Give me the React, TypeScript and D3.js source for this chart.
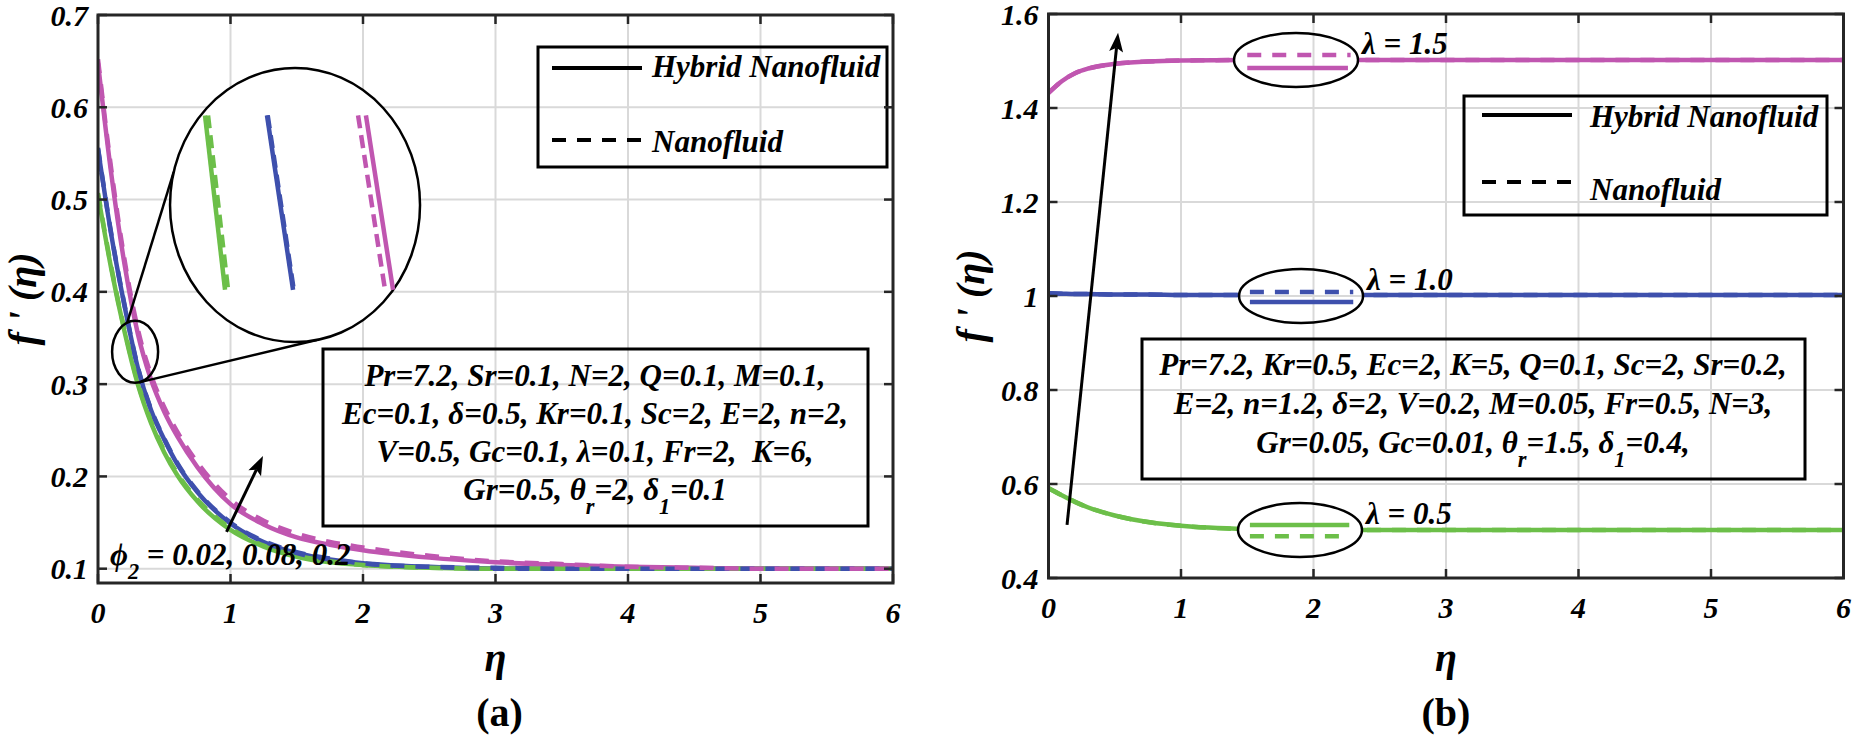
import React from 'react';
import * as d3 from 'd3';

// ---------------- common ----------------
const W = 1863;
const H = 745;
const FONT = "'Liberation Serif', 'Times New Roman', Times, serif";
const GREEN = '#6cbf49';
const BLUE = '#3e50ad';
const MAG = '#c056b0';
const GRID = '#d9d9d9';
const AXIS = '#262626';

const xTicks = [0, 1, 2, 3, 4, 5, 6];

// ---------------- panel (a) data ----------------
const etaA = [0, 0.1, 0.2, 0.3, 0.4, 0.5, 0.6, 0.75, 1, 1.25, 1.5, 1.75, 2, 2.5, 3, 3.5, 4, 4.5, 5, 6];
const phi002Hybrid = [0.505, 0.425, 0.357, 0.300, 0.258, 0.226, 0.201, 0.173, 0.142, 0.124, 0.113, 0.107, 0.104, 0.101, 0.100, 0.100, 0.100, 0.100, 0.100, 0.100];
const phi002Nano = [0.507, 0.427, 0.359, 0.302, 0.260, 0.228, 0.203, 0.175, 0.144, 0.125, 0.114, 0.108, 0.104, 0.101, 0.100, 0.100, 0.100, 0.100, 0.100, 0.100];
const phi008Hybrid = [0.555, 0.462, 0.385, 0.318, 0.272, 0.240, 0.213, 0.183, 0.149, 0.129, 0.117, 0.110, 0.106, 0.102, 0.100, 0.100, 0.100, 0.100, 0.100, 0.100];
const phi008Nano = [0.556, 0.463, 0.386, 0.319, 0.273, 0.241, 0.214, 0.184, 0.150, 0.130, 0.118, 0.111, 0.106, 0.102, 0.101, 0.100, 0.100, 0.100, 0.100, 0.100];
const phi02Hybrid = [0.648, 0.528, 0.430, 0.355, 0.305, 0.270, 0.243, 0.210, 0.170, 0.148, 0.134, 0.126, 0.120, 0.112, 0.107, 0.104, 0.102, 0.101, 0.100, 0.100];
const phi02Nano = [0.652, 0.533, 0.435, 0.360, 0.310, 0.275, 0.248, 0.215, 0.175, 0.152, 0.138, 0.129, 0.123, 0.114, 0.108, 0.105, 0.102, 0.101, 0.100, 0.100];
const yTicksA = [0.1, 0.2, 0.3, 0.4, 0.5, 0.6, 0.7];

const seriesA = [
  { color: GREEN, hybrid: phi002Hybrid, nano: phi002Nano },
  { color: BLUE, hybrid: phi008Hybrid, nano: phi008Nano },
  { color: MAG, hybrid: phi02Hybrid, nano: phi02Nano },
];

// magnified window shown in the big circle of panel (a)
const insetEtaDomain = [0.18, 0.32];
const insetFDomain = [0.33, 0.352];
const insetSegs = [
  { color: GREEN, dashed: false, eta: [0.1996, 0.2108], f: [0.3482, 0.3342] },
  { color: GREEN, dashed: true, eta: [0.2013, 0.2125], f: [0.3482, 0.3342] },
  { color: BLUE, dashed: false, eta: [0.2343, 0.2489], f: [0.3482, 0.3342] },
  { color: BLUE, dashed: true, eta: [0.2347, 0.2493], f: [0.3482, 0.3342] },
  { color: MAG, dashed: false, eta: [0.2897, 0.3049], f: [0.3482, 0.3342] },
  { color: MAG, dashed: true, eta: [0.2853, 0.3004], f: [0.3482, 0.3342] },
];

const paramLinesA = [
  [{ t: 'Pr=7.2, Sr=0.1, N=2, Q=0.1, M=0.1,' }],
  [{ t: 'Ec=0.1, δ=0.5, Kr=0.1, Sc=2, E=2, n=2,' }],
  [{ t: 'V=0.5, Gc=0.1, λ=0.1, Fr=2,  K=6,' }],
  [{ t: 'Gr=0.5, θ' }, { t: 'r', sub: true }, { t: '=2, δ' }, { t: '1', sub: true }, { t: '=0.1' }],
];

// ---------------- panel (b) data ----------------
const etaB = [0, 0.1, 0.2, 0.3, 0.5, 0.75, 1, 1.5, 2, 3, 4, 5, 6];
const lam15Hybrid = [1.432, 1.457, 1.474, 1.484, 1.494, 1.499, 1.501, 1.502, 1.502, 1.502, 1.502, 1.502, 1.502];
const lam15Nano = [1.432, 1.457, 1.474, 1.484, 1.494, 1.499, 1.501, 1.502, 1.502, 1.502, 1.502, 1.502, 1.502];
const lam10Hybrid = [1.006, 1.005, 1.004, 1.004, 1.003, 1.003, 1.002, 1.002, 1.002, 1.002, 1.002, 1.002, 1.002];
const lam10Nano = [1.006, 1.005, 1.004, 1.004, 1.003, 1.003, 1.002, 1.002, 1.002, 1.002, 1.002, 1.002, 1.002];
const lam05Hybrid = [0.591, 0.576, 0.562, 0.550, 0.533, 0.519, 0.511, 0.504, 0.502, 0.502, 0.502, 0.502, 0.502];
const lam05Nano = [0.591, 0.576, 0.562, 0.550, 0.533, 0.519, 0.511, 0.504, 0.502, 0.502, 0.502, 0.502, 0.502];
const yTicksB = [0.4, 0.6, 0.8, 1, 1.2, 1.4, 1.6];
const yTickLabelsB = ['0.4', '0.6', '0.8', '1', '1.2', '1.4', '1.6'];

const seriesB = [
  { color: GREEN, hybrid: lam05Hybrid, nano: lam05Nano },
  { color: BLUE, hybrid: lam10Hybrid, nano: lam10Nano },
  { color: MAG, hybrid: lam15Hybrid, nano: lam15Nano },
];

const zoomB = [
  { color: MAG, cEta: 1.868, cF: 1.502, etaH: [1.5, 2.26], fH: 1.485, etaN: [1.5, 2.28], fN: 1.513, label: 'λ = 1.5' },
  { color: BLUE, cEta: 1.906, cF: 1.0, etaH: [1.52, 2.3], fH: 0.987, etaN: [1.52, 2.3], fN: 1.0085, label: 'λ = 1.0' },
  { color: GREEN, cEta: 1.898, cF: 0.502, etaH: [1.52, 2.27], fH: 0.5128, etaN: [1.52, 2.22], fN: 0.489, label: 'λ = 0.5' },
];

const paramLinesB = [
  [{ t: 'Pr=7.2, Kr=0.5, Ec=2, K=5, Q=0.1, Sc=2, Sr=0.2,' }],
  [{ t: 'E=2, n=1.2, δ=2, V=0.2, M=0.05, Fr=0.5, N=3,' }],
  [{ t: 'Gr=0.05, Gc=0.01, θ' }, { t: 'r', sub: true }, { t: '=1.5, δ' }, { t: '1', sub: true }, { t: '=0.4,' }],
];

const legendItems = [
  { label: 'Hybrid Nanofluid', dashed: false },
  { label: 'Nanofluid', dashed: true },
];

// ---------------- helpers ----------------
const DASH = '14,11';
const LW = 4.5;

type Seg = { t: string; sub?: boolean };

function Rich({ x, y, segs, size, anchor = 'middle' }: { x: number; y: number; segs: Seg[]; size: number; anchor?: string }) {
  let prevSub = false;
  const SUBDY = 14;
  return (
    <text x={x} y={y} textAnchor={anchor} fontSize={size} fontWeight="bold" fontStyle="italic" style={{ whiteSpace: 'pre' }} fill="#000">
      {segs.map((s, i) => {
        let dy = 0;
        if (s.sub && !prevSub) dy = SUBDY;
        if (!s.sub && prevSub) dy = -SUBDY;
        prevSub = !!s.sub;
        return (
          <tspan key={i} dy={dy} fontSize={s.sub ? size * 0.72 : size}>
            {s.t}
          </tspan>
        );
      })}
    </text>
  );
}

function ellipsePath(cx: number, cy: number, rx: number, ry: number) {
  return `M${cx - rx},${cy} a${rx},${ry} 0 1,0 ${2 * rx},0 a${rx},${ry} 0 1,0 ${-2 * rx},0 Z`;
}

function Frame({ x, y, yTicks, yLabels }: any) {
  const [x0, x1] = x.range();
  const [y0, y1] = y.range(); // y0 bottom, y1 top
  const TL = 9;
  return (
    <g>
      {xTicks.map((t) => (
        <g key={'xt' + t}>
          <line x1={x(t)} x2={x(t)} y1={y0} y2={y0 - TL} stroke={AXIS} strokeWidth={2.5} />
          <line x1={x(t)} x2={x(t)} y1={y1} y2={y1 + TL} stroke={AXIS} strokeWidth={2.5} />
          <text x={x(t)} y={y0 + 40} textAnchor="middle" fontSize={30} fontWeight="bold" fontStyle="italic">
            {t}
          </text>
        </g>
      ))}
      {yTicks.map((t: number, i: number) => (
        <g key={'yt' + t}>
          <line x1={x0} x2={x0 + TL} y1={y(t)} y2={y(t)} stroke={AXIS} strokeWidth={2.5} />
          <line x1={x1} x2={x1 - TL} y1={y(t)} y2={y(t)} stroke={AXIS} strokeWidth={2.5} />
          <text x={x0 - 10} y={y(t)} dy="0.35em" textAnchor="end" fontSize={30} fontWeight="bold" fontStyle="italic">
            {yLabels[i]}
          </text>
        </g>
      ))}
      <rect x={x0} y={y1} width={x1 - x0} height={y0 - y1} fill="none" stroke={AXIS} strokeWidth={3} />
    </g>
  );
}

function Grid({ x, y, yTicks }: any) {
  const [x0, x1] = x.range();
  const [y0, y1] = y.range();
  return (
    <g stroke={GRID} strokeWidth={2}>
      {xTicks.map((t) => (
        <line key={'gx' + t} x1={x(t)} x2={x(t)} y1={y0} y2={y1} />
      ))}
      {yTicks.map((t: number) => (
        <line key={'gy' + t} x1={x0} x2={x1} y1={y(t)} y2={y(t)} />
      ))}
    </g>
  );
}

function Legend({ x, y, w, h, lineX0, lineX1, textX, rows }: any) {
  return (
    <g>
      <rect x={x} y={y} width={w} height={h} fill="none" stroke="#000" strokeWidth={3} />
      {legendItems.map((it, i) => (
        <g key={it.label}>
          <line x1={lineX0} x2={lineX1} y1={rows[i].line} y2={rows[i].line} stroke="#000" strokeWidth={4} strokeDasharray={it.dashed ? DASH : undefined} />
          <text x={textX} y={rows[i].text} fontSize={31} fontWeight="bold" fontStyle="italic">
            {it.label}
          </text>
        </g>
      ))}
    </g>
  );
}

function Arrow({ x1, y1, x2, y2, id }: any) {
  const ang = Math.atan2(y2 - y1, x2 - x1);
  const L = 19;
  const Wd = 7;
  const bx = x2 - L * Math.cos(ang);
  const by = y2 - L * Math.sin(ang);
  const px = -Math.sin(ang) * Wd;
  const py = Math.cos(ang) * Wd;
  const mx = x2 - (L - 4) * Math.cos(ang);
  const my = y2 - (L - 4) * Math.sin(ang);
  return (
    <g key={id}>
      <line x1={x1} y1={y1} x2={mx} y2={my} stroke="#000" strokeWidth={3} />
      <path d={`M${x2},${y2} L${bx + px},${by + py} L${mx},${my} L${bx - px},${by - py} Z`} fill="#000" />
    </g>
  );
}

// ---------------- panel (a) ----------------
function PanelA() {
  const x = d3.scaleLinear().domain([0, 6]).range([98, 893]);
  const y = d3.scaleLinear().domain([0.0845, 0.7]).range([583, 15]);
  const line = (vals: number[]) =>
    d3
      .line<number>()
      .x((_, i) => x(etaA[i]))
      .y((d) => y(d))
      .curve(d3.curveMonotoneX)(vals) as string;

  // annotation geometry (small circle around the curves, magnified view)
  const sc = { cx: x(0.28), cy: y(0.335), rx: 23, ry: 31 };
  const bc = { cx: x(1.487), cy: y(0.494), rx: 125, ry: 137 };
  const pt = (c: any, deg: number) => [c.cx + c.rx * Math.cos((deg * Math.PI) / 180), c.cy + c.ry * Math.sin((deg * Math.PI) / 180)];
  const u1 = pt(sc, -110), u2 = pt(bc, -166), l1 = pt(sc, 80), l2 = pt(bc, 80);
  const ix = d3.scaleLinear().domain(insetEtaDomain).range([bc.cx - bc.rx, bc.cx + bc.rx]);
  const iy = d3.scaleLinear().domain(insetFDomain).range([bc.cy + bc.ry, bc.cy - bc.ry]);

  const yLabels = yTicksA.map((t) => d3.format('.1f')(t));
  const [x0, x1] = x.range();
  const [yb, yt] = y.range();

  return (
    <g fontFamily={FONT}>
      <defs>
        <clipPath id="clipA">
          <rect x={x0} y={yt} width={x1 - x0} height={yb - yt} />
        </clipPath>
      </defs>
      <Grid x={x} y={y} yTicks={yTicksA} />
      <g clipPath="url(#clipA)" fill="none" strokeWidth={LW}>
        {seriesA.map((s, i) => (
          <path key={'h' + i} d={line(s.hybrid)} stroke={s.color} />
        ))}
        {seriesA.map((s, i) => (
          <path key={'n' + i} d={line(s.nano)} stroke={s.color} strokeDasharray={DASH} />
        ))}
      </g>
      {/* magnifier */}
      <ellipse cx={sc.cx} cy={sc.cy} rx={sc.rx} ry={sc.ry} fill="none" stroke="#000" strokeWidth={2.5} />
      <line x1={u1[0]} y1={u1[1]} x2={u2[0]} y2={u2[1]} stroke="#000" strokeWidth={2.5} />
      <line x1={l1[0]} y1={l1[1]} x2={l2[0]} y2={l2[1]} stroke="#000" strokeWidth={2.5} />
      <ellipse cx={bc.cx} cy={bc.cy} rx={bc.rx} ry={bc.ry} fill="#fff" stroke="#000" strokeWidth={2.5} />
      {insetSegs.map((s, i) => (
        <line
          key={'is' + i}
          x1={ix(s.eta[0])}
          y1={iy(s.f[0])}
          x2={ix(s.eta[1])}
          y2={iy(s.f[1])}
          stroke={s.color}
          strokeWidth={LW}
          strokeDasharray={s.dashed ? '13,7' : undefined}
        />
      ))}
      <Arrow x1={x(0.97)} y1={y(0.14)} x2={x(1.245)} y2={y(0.222)} id="arrA" />
      <Rich x={110} y={565} anchor="start" size={31} segs={[{ t: 'ϕ' }, { t: '2', sub: true }, { t: ' = 0.02, 0.08, 0.2' }]} />
      <Legend x={538} y={47} w={349} h={120} lineX0={552} lineX1={642} textX={652} rows={[{ line: 68, text: 77 }, { line: 140, text: 152 }]} />
      <rect x={323} y={349} width={545} height={177} fill="none" stroke="#000" strokeWidth={3} />
      {paramLinesA.map((segs, i) => (
        <Rich key={'pa' + i} x={595} y={386 + i * 38} size={31} segs={segs} />
      ))}
      <Frame x={x} y={y} yTicks={yTicksA} yLabels={yLabels} />
      <text transform={`translate(36,${(yb + yt) / 2}) rotate(-90)`} textAnchor="middle" fontSize={40} fontWeight="bold" fontStyle="italic" style={{ whiteSpace: 'pre' }}>
        {"f ' (η)"}
      </text>
      <text x={(x0 + x1) / 2} y={671} textAnchor="middle" fontSize={40} fontWeight="bold" fontStyle="italic">
        η
      </text>
      <text x={(x0 + x1) / 2 + 4} y={726} textAnchor="middle" fontSize={40} fontWeight="bold">
        (a)
      </text>
    </g>
  );
}

// ---------------- panel (b) ----------------
function PanelB() {
  const x = d3.scaleLinear().domain([0, 6]).range([1048.5, 1843.5]);
  const y = d3.scaleLinear().domain([0.4, 1.6]).range([578, 14]);
  const line = (vals: number[]) =>
    d3
      .line<number>()
      .x((_, i) => x(etaB[i]))
      .y((d) => y(d))
      .curve(d3.curveMonotoneX)(vals) as string;
  const [x0, x1] = x.range();
  const [yb, yt] = y.range();
  const ERX = 62, ERY = 27;
  const clipD =
    `M${x0},${yt} H${x1} V${yb} H${x0} Z ` + zoomB.map((z) => ellipsePath(x(z.cEta), y(z.cF), ERX, ERY)).join(' ');

  return (
    <g fontFamily={FONT}>
      <defs>
        <clipPath id="clipB">
          <path d={clipD} clipRule="evenodd" />
        </clipPath>
      </defs>
      <Grid x={x} y={y} yTicks={yTicksB} />
      <g clipPath="url(#clipB)" fill="none" strokeWidth={LW}>
        {seriesB.map((s, i) => (
          <path key={'h' + i} d={line(s.hybrid)} stroke={s.color} />
        ))}
        {seriesB.map((s, i) => (
          <path key={'n' + i} d={line(s.nano)} stroke={s.color} strokeDasharray={DASH} />
        ))}
      </g>
      {zoomB.map((z, i) => (
        <g key={'z' + i}>
          <ellipse cx={x(z.cEta)} cy={y(z.cF)} rx={ERX} ry={ERY} fill="none" stroke="#000" strokeWidth={2.5} />
          <line x1={x(z.etaH[0])} x2={x(z.etaH[1])} y1={y(z.fH)} y2={y(z.fH)} stroke={z.color} strokeWidth={LW} />
          <line x1={x(z.etaN[0])} x2={x(z.etaN[1])} y1={y(z.fN)} y2={y(z.fN)} stroke={z.color} strokeWidth={LW} strokeDasharray={DASH} />
          <text x={x(z.cEta) + ERX + 4} y={y(z.cF) - 6} fontSize={31} fontWeight="bold" fontStyle="italic">
            {z.label}
          </text>
        </g>
      ))}
      <Arrow x1={x(0.14)} y1={y(0.513)} x2={x(0.525)} y2={y(1.56)} id="arrB" />
      <Legend x={1464} y={96} w={363} h={119} lineX0={1482} lineX1={1572} textX={1590} rows={[{ line: 115, text: 127 }, { line: 182, text: 200 }]} />
      <rect x={1142} y={339} width={663} height={140} fill="none" stroke="#000" strokeWidth={3} />
      {paramLinesB.map((segs, i) => (
        <Rich key={'pb' + i} x={1473} y={375 + i * 39} size={31} segs={segs} />
      ))}
      <Frame x={x} y={y} yTicks={yTicksB} yLabels={yTickLabelsB} />
      <text transform={`translate(984,${(yb + yt) / 2}) rotate(-90)`} textAnchor="middle" fontSize={40} fontWeight="bold" fontStyle="italic" style={{ whiteSpace: 'pre' }}>
        {"f ' (η)"}
      </text>
      <text x={(x0 + x1) / 2} y={671} textAnchor="middle" fontSize={40} fontWeight="bold" fontStyle="italic">
        η
      </text>
      <text x={(x0 + x1) / 2} y={726} textAnchor="middle" fontSize={40} fontWeight="bold">
        (b)
      </text>
    </g>
  );
}

export default function App() {
  return (
    <svg width={W} height={H} viewBox={`0 0 ${W} ${H}`} style={{ position: 'absolute', left: 0, top: 0, display: 'block' }}>
      <rect width={W} height={H} fill="#fff" />
      <PanelA />
      <PanelB />
    </svg>
  );
}
